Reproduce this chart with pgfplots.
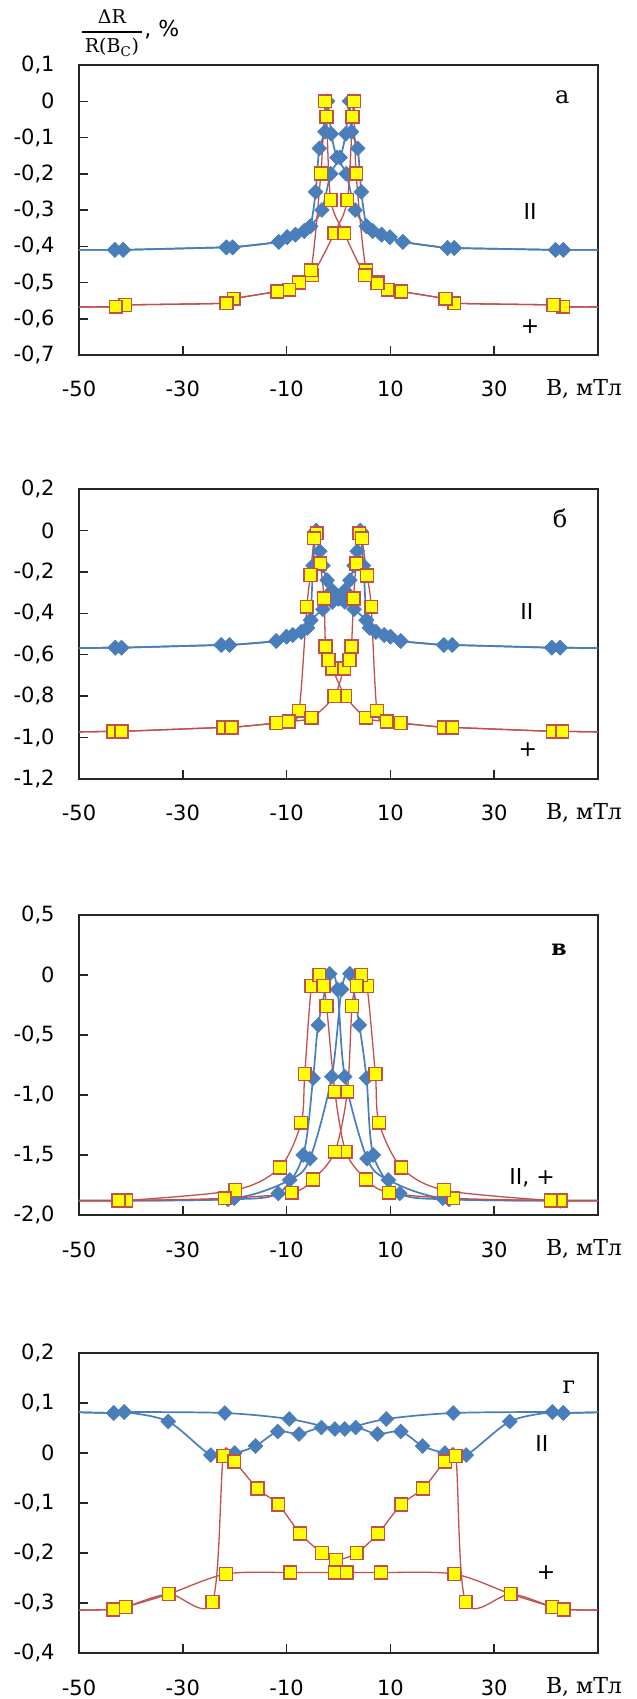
\documentclass[border=0pt]{standalone}
\usepackage{fontspec}
\setmainfont{DejaVu Sans}
\newfontfamily\serif{DejaVu Serif}
\usepackage{pgfplots}
\pgfplotsset{compat=1.18}
\definecolor{bl}{RGB}{74,126,187}
\definecolor{rd}{RGB}{192,80,77}
\definecolor{ye}{RGB}{255,255,0}
\pgfplotsset{
 panel/.style={
  scale only axis, width=259.5pt, xmin=-50, xmax=50,
  anchor=north west,
  axis line style={line width=0.8pt, black!85},
  tick align=inside, major tick length=4.5pt,
  tick style={black!85, line width=0.75pt},
  xtick pos=left, ytick pos=left,
  xtick={-50,-30,-10,10,30}, xticklabels={-50,-30,-10,10,30},
  xticklabel style={anchor=north, inner sep=0pt, yshift=-13pt, font=\fontsize{10.5}{12}\selectfont},
  yticklabel style={anchor=east, inner sep=0pt, xshift=-12pt, font=\fontsize{10.5}{12}\selectfont},
  clip=true,
 },
 bser/.style={color=bl, line width=0.85pt, smooth, mark=diamond*, mark size=3.7pt,
   mark options={xscale=1.33, fill=bl, draw=bl, line width=0.3pt}},
 rser/.style={color=rd, line width=0.65pt, smooth, mark=square*, mark size=3.2pt,
   mark options={fill=ye, draw=rd, line width=0.75pt}},
}
\tikzset{
 lett/.style={font=\serif\fontsize{12}{14}\selectfont, inner sep=0pt},
 par/.style={font=\fontsize{11}{13}\selectfont, inner sep=0pt},
 bunit/.style={font=\serif\fontsize{11}{13}\selectfont, inner sep=0pt},
}
\begin{document}
\begin{tikzpicture}
\useasboundingbox (0,0) rectangle (318.5pt,-849.5pt);
% y label
\node[font=\serif\fontsize{9.5}{10}\selectfont, inner sep=0pt] at (56pt,-17pt)
 {\setlength{\arrayrulewidth}{0.7pt}\begin{tabular}{@{\,}c@{\,}}ΔR\\[1pt]\hline\rule{0pt}{10pt}R(B\textsubscript{C})\end{tabular}};
\node[font=\fontsize{11}{13}\selectfont, inner sep=0pt, anchor=west] at (72pt,-15pt) {, \%};

% ---------------- panel a
\begin{axis}[panel, name=pa, at={(39.5pt,-32.5pt)}, height=145pt,
  ymin=-0.7, ymax=0.1,
  ytick={-0.7,-0.6,-0.5,-0.4,-0.3,-0.2,-0.1,0,0.1},
  yticklabels={{-0,7},{-0,6},{-0,5},{-0,4},{-0,3},{-0,2},{-0,1},0,{0,1}}]
\addplot[bser] coordinates {(-56,-0.41)(-43.1,-0.41)(-41.5,-0.41)(-21.6,-0.403)(-20.4,-0.403)(-11.5,-0.388)(-9.9,-0.375)(-8.3,-0.368)(-6.6,-0.358)(-5.4,-0.345)(-3.2,-0.30)(-1.5,-0.2)(0.3,-0.155)(1.4,-0.09)(2.1,0.0)(2.5,-0.084)(3.7,-0.13)(4.4,-0.25)(5.4,-0.345)(6.6,-0.358)(8.3,-0.368)(9.9,-0.375)(12.4,-0.388)(21.0,-0.405)(22.3,-0.405)(41.8,-0.41)(43.3,-0.41)(56,-0.41)};
\addplot[bser] coordinates {(56,-0.41)(43.3,-0.41)(41.8,-0.41)(22.3,-0.405)(21.0,-0.405)(12.4,-0.388)(9.9,-0.375)(8.3,-0.368)(6.6,-0.358)(5.4,-0.345)(3.2,-0.30)(1.5,-0.2)(-0.3,-0.155)(-1.4,-0.09)(-2.1,0.0)(-2.6,-0.084)(-3.7,-0.13)(-4.4,-0.25)(-5.4,-0.345)(-6.6,-0.358)(-8.3,-0.368)(-9.9,-0.375)(-11.5,-0.388)(-20.4,-0.403)(-21.6,-0.403)(-41.5,-0.41)(-43.1,-0.41)(-56,-0.41)};
\addplot[rser] coordinates {(-56,-0.567)(-42.9,-0.567)(-41.1,-0.562)(-21.6,-0.557)(-20.2,-0.545)(-11.8,-0.525)(-9.5,-0.52)(-7.6,-0.502)(-5.1,-0.48)(-0.8,-0.364)(1.7,-0.272)(2.7,-0.043)(3.0,0.0)(3.4,-0.199)(5.3,-0.466)(7.5,-0.50)(9.5,-0.52)(12.1,-0.525)(20.6,-0.545)(22.3,-0.557)(41.4,-0.562)(43.3,-0.567)(56,-0.567)};
\addplot[rser] coordinates {(56,-0.567)(43.3,-0.567)(41.4,-0.562)(22.3,-0.557)(20.6,-0.545)(12.1,-0.525)(9.5,-0.52)(7.5,-0.502)(5.1,-0.48)(1.1,-0.364)(-1.5,-0.272)(-2.3,-0.043)(-2.6,0.0)(-3.4,-0.199)(-5.3,-0.466)(-7.6,-0.50)(-9.5,-0.52)(-11.8,-0.525)(-20.2,-0.545)(-21.6,-0.557)(-41.1,-0.562)(-42.9,-0.567)(-56,-0.567)};
\node[lett] at (axis cs:43.1,0.012) {а};
\node[par] at (axis cs:36.9,-0.305) {II};
\node[par] at (axis cs:36.9,-0.623) {+};
\end{axis}
\node[bunit] at ([shift={(252.5pt,-17pt)}]pa.south west) {B, мТл};

% ---------------- panel b
\begin{axis}[panel, name=pb, at={(39.5pt,-244.5pt)}, height=145pt,
  ymin=-1.2, ymax=0.2,
  ytick={-1.2,-1.0,-0.8,-0.6,-0.4,-0.2,0,0.2},
  yticklabels={{-1,2},{-1,0},{-0,8},{-0,6},{-0,4},{-0,2},0,{0,2}}]
\addplot[bser] coordinates {(56,-0.57)(42.7,-0.566)(41.1,-0.566)(21.9,-0.553)(20.3,-0.553)(12,-0.534)(10,-0.513)(8.8,-0.505)(7.2,-0.49)(6.0,-0.47)(5.3,-0.433)(3.0,-0.38)(1.2,-0.345)(0,-0.33)(-1.2,-0.29)(-2.2,-0.24)(-3.0,-0.17)(-3.6,-0.10)(-4.3,0.0)(-4.9,-0.17)(-5.4,-0.433)(-6.0,-0.47)(-7.2,-0.49)(-8.8,-0.505)(-10,-0.513)(-12,-0.534)(-21,-0.553)(-22.6,-0.553)(-41.8,-0.566)(-43,-0.566)(-56,-0.57)};
\addplot[bser] coordinates {(-56,-0.57)(-43,-0.566)(-41.8,-0.566)(-22.6,-0.553)(-21,-0.553)(-12,-0.534)(-10,-0.513)(-8.8,-0.505)(-7.2,-0.49)(-6.0,-0.47)(-5.3,-0.433)(-3.0,-0.38)(-1.2,-0.345)(0,-0.33)(1.2,-0.29)(2.2,-0.24)(3.0,-0.17)(3.6,-0.10)(4.2,0.0)(4.8,-0.17)(5.4,-0.433)(6.0,-0.47)(7.2,-0.49)(8.8,-0.505)(10,-0.513)(12,-0.534)(20.3,-0.553)(21.9,-0.553)(41.1,-0.566)(42.7,-0.566)(56,-0.57)};
\addplot[rser] coordinates {(56,-0.975)(43.1,-0.97)(41.3,-0.97)(21.9,-0.951)(20.3,-0.951)(12.0,-0.93)(9.3,-0.922)(5.3,-0.904)(1.3,-0.799)(-1.2,-0.666)(-1.9,-0.625)(-2.5,-0.561)(-2.8,-0.328)(-3.5,-0.159)(-4.2,-0.014)(-4.7,-0.038)(-5.4,-0.215)(-6.1,-0.368)(-7.6,-0.87)(-9.6,-0.922)(-12.0,-0.93)(-20.6,-0.951)(-22.2,-0.951)(-41.8,-0.97)(-43.4,-0.97)(-56,-0.975)};
\addplot[rser] coordinates {(-56,-0.975)(-43.4,-0.97)(-41.8,-0.97)(-22.2,-0.951)(-20.6,-0.951)(-12.0,-0.93)(-9.6,-0.922)(-5.2,-0.904)(-0.8,-0.799)(1.1,-0.666)(2.1,-0.625)(2.5,-0.561)(2.9,-0.328)(3.4,-0.159)(4.0,-0.014)(4.5,-0.038)(5.5,-0.218)(6.3,-0.368)(7.4,-0.87)(9.3,-0.922)(12.0,-0.93)(20.3,-0.951)(21.9,-0.951)(41.3,-0.97)(43.1,-0.97)(56,-0.975)};
\node[lett] at (axis cs:42.7,0.06) {б};
\node[par] at (axis cs:36.3,-0.389) {II};
\node[par] at (axis cs:36.5,-1.06) {+};
\end{axis}
\node[bunit] at ([shift={(252.5pt,-17pt)}]pb.south west) {B, мТл};

% ---------------- panel c
\begin{axis}[panel, name=pc, at={(39.5pt,-457.5pt)}, height=150pt,
  ymin=-2.0, ymax=0.5,
  ytick={-2.0,-1.5,-1.0,-0.5,0,0.5},
  yticklabels={{-2,0},{-1,5},{-1,0},{-0,5},0,{0,5}}]
\addplot[bser] coordinates {(-56,-1.88)(-42.4,-1.88)(-40.9,-1.88)(-21.3,-1.87)(-11.6,-1.82)(-6.8,-1.5)(-4.9,-0.86)(-3.9,-0.417)(-1.7,0.01)(-0.2,-0.12)(1.2,-0.847)(5.5,-1.53)(9.6,-1.708)(20.1,-1.86)(40.9,-1.88)(42.8,-1.88)(56,-1.88)};
\addplot[bser] coordinates {(56,-1.88)(42.8,-1.88)(40.9,-1.88)(21.3,-1.87)(11.8,-1.82)(6.7,-1.5)(5.4,-0.86)(4.0,-0.417)(2.2,0.01)(0.6,-0.12)(-1.3,-0.847)(-5.5,-1.53)(-9.4,-1.708)(-20.1,-1.86)(-40.9,-1.88)(-42.4,-1.88)(-56,-1.88)};
\addplot[rser] coordinates {(-56,-1.88)(-42.4,-1.88)(-40.9,-1.88)(-19.9,-1.792)(-11.3,-1.603)(-7.2,-1.231)(-6.5,-0.825)(-5.2,-0.092)(-3.7,0.0)(-2.9,-0.092)(-2.3,-0.258)(-0.7,-0.972)(1.4,-1.472)(5.3,-1.703)(9.7,-1.814)(22.1,-1.861)(40.9,-1.88)(42.8,-1.88)(56,-1.88)};
\addplot[rser] coordinates {(56,-1.88)(42.8,-1.88)(40.9,-1.88)(20.3,-1.792)(12.1,-1.603)(7.8,-1.231)(7.1,-0.825)(5.5,-0.092)(4.4,0.0)(3.5,-0.092)(2.6,-0.258)(1.7,-0.972)(-0.7,-1.472)(-4.9,-1.703)(-9.0,-1.814)(-21.9,-1.861)(-40.9,-1.88)(-42.4,-1.88)(-56,-1.88)};
\node[font=\serif\bfseries\fontsize{11}{13}\selectfont, inner sep=0pt] at (axis cs:42.5,0.208) {в};
\node[par] at (axis cs:37.3,-1.69) {II, +};
\end{axis}
\node[bunit] at ([shift={(252.5pt,-17pt)}]pc.south west) {B, мТл};

% ---------------- panel d
\begin{axis}[panel, name=pd, at={(39.5pt,-676.5pt)}, height=150pt,
  ymin=-0.4, ymax=0.2,
  ytick={-0.4,-0.3,-0.2,-0.1,0,0.1,0.2},
  yticklabels={{-0,4},{-0,3},{-0,2},{-0,1},0,{0,1},{0,2}}]
\addplot[bser] coordinates {(-56,0.083)(-43.3,0.080)(-41.3,0.082)(-21.9,0.080)(-9.5,0.068)(-0.7,0.048)(1.2,0.048)(9.2,0.068)(22.1,0.080)(41.2,0.082)(43.3,0.080)(56,0.083)};
\addplot[bser] coordinates {(-56,0.083)(-43.3,0.080)(-41.3,0.082)(-32.8,0.063)(-24.6,-0.004)(-20.0,0.0)(-16.0,0.014)(-11.7,0.043)(-7.6,0.038)(-3.3,0.051)(3.3,0.051)(7.5,0.038)(12.0,0.043)(16.2,0.014)(20.5,0.0)(24.6,-0.004)(33.0,0.063)(41.2,0.082)(43.3,0.080)(56,0.083)};
\addplot[rser] coordinates {(-56,-0.315)(-43.4,-0.313)(-41.0,-0.308)(-32.7,-0.282)(-24.3,-0.298)(-22.2,-0.006)(-20.1,-0.017)(-15.6,-0.071)(-11.6,-0.103)(-7.4,-0.161)(-3.2,-0.200)(-0.5,-0.214)(3.5,-0.200)(7.6,-0.161)(12.1,-0.103)(16.3,-0.071)(20.5,-0.017)(22.6,-0.006)(24.5,-0.298)(33.2,-0.282)(41.2,-0.308)(43.4,-0.313)(56,-0.315)};
\addplot[rser] coordinates {(-56,-0.315)(-43.4,-0.313)(-41.0,-0.308)(-32.7,-0.282)(-21.7,-0.242)(-9.3,-0.239)(-0.7,-0.239)(1.6,-0.239)(8.2,-0.239)(22.3,-0.242)(33.2,-0.282)(41.2,-0.308)(43.4,-0.313)(56,-0.315)};
\node[lett] at (axis cs:44.4,0.132) {г};
\node[par] at (axis cs:39.2,0.02) {II};
\node[par] at (axis cs:40.0,-0.24) {+};
\end{axis}
\node[bunit] at ([shift={(252.5pt,-17pt)}]pd.south west) {B, мТл};
\end{tikzpicture}
\end{document}
